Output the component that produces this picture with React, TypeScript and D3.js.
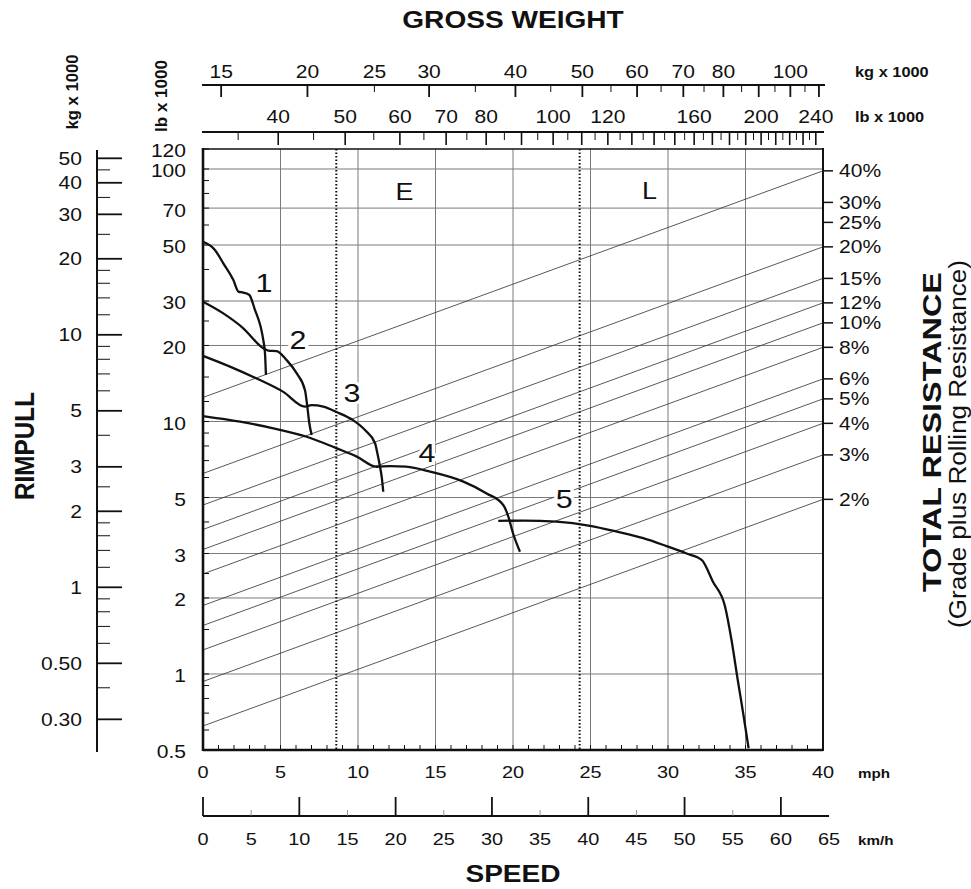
import React from 'react'
import * as d3 from 'd3'

const W = 971
const H = 889
const SX = 1.17 // the scanned chart is stretched a little horizontally
const FONT = '"Liberation Sans", Arial, Helvetica, sans-serif'
const LB_PER_KG = 2.20462
const KMH_PER_MPH = 1.609344

// speed
const mphLabels = [0, 5, 10, 15, 20, 25, 30, 35, 40]
const kmhLabels = [0, 5, 10, 15, 20, 25, 30, 35, 40, 45, 50, 55, 60, 65]
const kmhMajor = [0, 10, 20, 30, 40, 50, 60]
const kmhMinor = [5, 15, 25, 35, 45, 55]

// gross weight (x 1000)
const kgLabels = [15, 20, 25, 30, 40, 50, 60, 70, 80, 100]
const kgMajor = [15, 20, 30, 40, 50, 60, 70, 80, 90, 100, 110]
const kgMinor = [25, 35, 45, 55, 65, 75, 85, 95, 105]
const lbLabels = [40, 50, 60, 70, 80, 100, 120, 160, 200, 240]

// rimpull (x 1000)
const pullLbLabels = [120, 100, 70, 50, 30, 20, 10, 5, 3, 2, 1, 0.5]
const pullLbGrid = [100, 70, 50, 30, 20, 10, 5, 3, 2, 1]
const pullLbMinor = [0.6, 0.7, 0.8, 0.9, 1, 1.5, 2, 2.5, 3, 4, 5, 6, 7, 8, 9, 10, 12, 15, 20, 25, 30, 40, 50, 60, 70, 80, 90, 100, 120]
const pullKgLabels = [50, 40, 30, 20, 10, 5, 3, 2, 1, 0.5, 0.3]
const pullKgMinor = [45, 35, 25, 18, 16, 14, 12, 9, 8, 7, 6, 4, 2.5, 1.8, 1.6, 1.4, 1.2, 0.9, 0.8, 0.7, 0.6, 0.4]

// total resistance (%)
const resistLabels = [40, 30, 25, 20, 15, 12, 10, 8, 6, 5, 4, 3, 2]
const resistLines = [40, 20, 15, 12, 10, 8, 6, 5, 4, 3, 2]

// gear curves: [mph, rimpull lb x 1000]
const gear1 = [[0, 51.5], [0.77, 47.8], [1.31, 42.3], [1.96, 36.3], [2.28, 32.7], [2.6, 32.4], [2.99, 31.7], [3.35, 27.7], [3.72, 23.7], [3.89, 21.0], [4.0, 18.6], [4.06, 15.3]]
const gear2 = [[0, 29.8], [1.31, 26.8], [2.6, 23.4], [3.89, 19.5], [4.21, 19.1], [4.75, 19.0], [5.4, 17.5], [6.05, 15.5], [6.58, 13.3], [6.73, 11.45], [6.86, 9.84], [7.01, 8.84]]
const gear3 = [[0, 18.2], [1.74, 16.5], [3.46, 14.8], [5.18, 13.1], [6.58, 11.45], [7.01, 11.6], [7.76, 11.45], [8.62, 10.9], [9.7, 10.1], [10.45, 9.25], [11.1, 8.2], [11.25, 7.48], [11.42, 6.62], [11.53, 6.04], [11.63, 5.27]]
const gear4 = [[0, 10.5], [2.39, 9.98], [4.54, 9.4], [6.69, 8.7], [8.62, 7.83], [9.92, 7.26], [11.2, 6.62], [12.06, 6.66], [13.1, 6.62], [14.65, 6.33], [16.8, 5.78], [18.3, 5.19], [19.37, 4.67], [19.7, 4.2], [20.0, 3.61], [20.45, 3.05]]
const gear5 = [[19.05, 4.04], [20.7, 4.05], [22.8, 4.01], [24.97, 3.86], [26.7, 3.66], [28.4, 3.45], [29.9, 3.21], [31.2, 3.0], [32.17, 2.83], [32.9, 2.32], [33.68, 1.85], [34.1, 1.36], [34.5, 0.947], [34.85, 0.699], [35.2, 0.508]]
const gears = [gear1, gear2, gear3, gear4, gear5]
const gearNames = ['1', '2', '3', '4', '5']
const gearLabelAt = [[3.94, 35.4], [6.13, 21.0], [9.61, 12.97], [14.45, 7.5], [23.3, 4.93]]

// dotted range limits and their letters
const rangeLimits = [8.6, 24.3]
const rangeNames = ['E', 'L']
const rangeNameAt = [[13, 81], [28.8, 82]]

const left = 203
const right = 823
const top = 149
const bottom = 750

const x = d3.scaleLinear().domain([0, 40]).range([left, right])
const kmh = d3.scaleLinear().domain([0, 40 * KMH_PER_MPH]).range([left, right])
const y = d3.scaleLog().domain([0.5, 120]).range([bottom, top])
const weight = d3.scaleLog().domain([14.12, 111.5]).range([left, right])
const yKg = (v: number) => y(v * LB_PER_KG)

type TProps = {
  x: number
  y: number
  size: number
  anchor?: string
  bold?: boolean
  rotate?: number
  len?: number
  sx?: number
  children: React.ReactNode
}

const T = ({ x, y, size, anchor = 'middle', bold = false, rotate = 0, len, sx = SX, children }: TProps) => (
  <text
    transform={`translate(${x},${y}) scale(${sx},1)${rotate ? ` rotate(${rotate})` : ''}`}
    fontSize={size}
    textAnchor={anchor}
    fontWeight={bold ? 'bold' : 'normal'}
    dominantBaseline="central"
    textLength={len}
    lengthAdjust={len ? 'spacingAndGlyphs' : undefined}
  >
    {children}
  </text>
)

const App = () => {
  const line = d3
    .line<number[]>()
    .x((d) => x(d[0]))
    .y((d) => y(d[1]))
    .curve(d3.curveMonotoneX)

  const wMax = weight.domain()[1] * LB_PER_KG
  const wMin = weight.domain()[0] * LB_PER_KG
  const lbMajor = d3.range(40, 241, 10)
  const lbMinor = d3.range(35, 241, 5).filter((v) => v % 10 !== 0)
  const mphMinor = d3.range(1, 40)
  const kgAxisY = 85
  const lbAxisY = 132
  const outerX = 97
  const kmhAxisY = 816

  return (
    <svg
      width={W}
      height={H}
      style={{ position: 'absolute', left: 0, top: 0, background: '#fff', fontFamily: FONT }}
    >
      <rect width={W} height={H} fill="#fff" />

      {/* grid */}
      <g stroke="#7a7a7a" strokeWidth={1}>
        {pullLbGrid.map((v) => (
          <line key={'h' + v} x1={left} x2={right} y1={y(v)} y2={y(v)} />
        ))}
        {mphLabels.slice(1, -1).map((v) => (
          <line key={'v' + v} x1={x(v)} x2={x(v)} y1={top} y2={bottom} />
        ))}
      </g>

      {/* total resistance lines */}
      <g stroke="#3a3a3a" strokeWidth={0.85}>
        {resistLines.map((r) => (
          <line
            key={'r' + r}
            x1={left}
            x2={right}
            y1={y((wMin * r) / 100)}
            y2={y((wMax * r) / 100)}
          />
        ))}
      </g>

      {/* range limits */}
      <g stroke="#111" strokeWidth={2} strokeDasharray="1.5 2">
        {rangeLimits.map((v) => (
          <line key={'d' + v} x1={x(v)} x2={x(v)} y1={top} y2={bottom} />
        ))}
      </g>
      <g fill="#111">
        {rangeNames.map((n, i) => (
          <T key={n} x={x(rangeNameAt[i][0])} y={y(rangeNameAt[i][1])} size={23}>
            {n}
          </T>
        ))}
      </g>

      {/* gear curves */}
      <g fill="none" stroke="#111" strokeWidth={2.3} strokeLinejoin="round">
        {gears.map((g, i) => (
          <path key={'g' + i} d={line(g) || ''} />
        ))}
      </g>
      <g fill="#111" stroke="#fff" strokeWidth={6} paintOrder="stroke">
        {gearNames.map((n, i) => (
          <T key={'gl' + n} x={x(gearLabelAt[i][0])} y={y(gearLabelAt[i][1])} size={26}>
            {n}
          </T>
        ))}
      </g>

      {/* plot frame and inner ticks */}
      <g stroke="#111" fill="none">
        <line x1={left} x2={left} y1={top - 1} y2={bottom + 1} strokeWidth={2.6} />
        <line x1={left} x2={right} y1={bottom} y2={bottom} strokeWidth={2.6} />
        <line x1={right} x2={right} y1={top - 1} y2={bottom + 1} strokeWidth={2} />
        <line x1={left} x2={right} y1={top} y2={top} strokeWidth={1.6} />
        {pullLbMinor.map((v) => (
          <line key={'lt' + v} x1={left} x2={left + 6} y1={y(v)} y2={y(v)} strokeWidth={1} />
        ))}
        {mphMinor.map((v) => (
          <line key={'bt' + v} x1={x(v)} x2={x(v)} y1={bottom} y2={bottom - 5} strokeWidth={1} />
        ))}
      </g>

      {/* left inner axis labels (lb x 1000) */}
      <g fill="#111">
        {pullLbLabels.map((v) => (
          <T key={'ll' + v} x={186} y={y(v) + 2} size={18} anchor="end">
            {String(v)}
          </T>
        ))}
      </g>

      {/* left outer axis (kg x 1000) */}
      <g stroke="#111">
        <line x1={outerX} x2={outerX} y1={top + 1} y2={bottom + 2} strokeWidth={2} />
        {pullKgLabels.map((v) => (
          <line key={'ok' + v} x1={outerX} x2={outerX + 25} y1={yKg(v)} y2={yKg(v)} strokeWidth={1.8} />
        ))}
        {pullKgMinor.map((v) => (
          <line key={'om' + v} x1={outerX} x2={outerX + 13} y1={yKg(v)} y2={yKg(v)} strokeWidth={1} />
        ))}
      </g>
      <g fill="#111">
        {pullKgLabels.map((v) => (
          <T key={'ol' + v} x={82} y={yKg(v)} size={18} anchor="end">
            {v < 1 ? v.toFixed(2) : String(v)}
          </T>
        ))}
      </g>

      {/* right axis: total resistance */}
      <g stroke="#111" strokeWidth={1.5}>
        {resistLabels.map((r) => (
          <line key={'rt' + r} x1={right} x2={right + 10} y1={y((wMax * r) / 100)} y2={y((wMax * r) / 100)} />
        ))}
      </g>
      <g fill="#111">
        {resistLabels.map((r) => (
          <T key={'rl' + r} x={right + 16} y={y((wMax * r) / 100)} size={18} anchor="start">
            {r + '%'}
          </T>
        ))}
      </g>

      {/* gross weight axes */}
      <g stroke="#111">
        <line x1={left - 1} x2={right + 2} y1={kgAxisY} y2={kgAxisY} strokeWidth={2} />
        {kgMajor.map((v) => (
          <line key={'km' + v} x1={weight(v)} x2={weight(v)} y1={kgAxisY} y2={kgAxisY + 12} strokeWidth={1.8} />
        ))}
        {kgMinor.map((v) => (
          <line key={'kn' + v} x1={weight(v)} x2={weight(v)} y1={kgAxisY} y2={kgAxisY + 7} strokeWidth={1} />
        ))}
        <line x1={left - 1} x2={right + 1} y1={lbAxisY} y2={lbAxisY} strokeWidth={2} />
        {lbMajor.map((v) => (
          <line key={'lm' + v} x1={weight(v / LB_PER_KG)} x2={weight(v / LB_PER_KG)} y1={lbAxisY} y2={lbAxisY + 13} strokeWidth={1.6} />
        ))}
        {lbMinor.map((v) => (
          <line key={'ln' + v} x1={weight(v / LB_PER_KG)} x2={weight(v / LB_PER_KG)} y1={lbAxisY} y2={lbAxisY + 8} strokeWidth={1} />
        ))}
      </g>
      <g fill="#111">
        {kgLabels.map((v) => (
          <T key={'kl' + v} x={weight(v)} y={72} size={18}>
            {v}
          </T>
        ))}
        {lbLabels.map((v) => (
          <T key={'bl' + v} x={weight(v / LB_PER_KG)} y={117} size={18}>
            {v}
          </T>
        ))}
        <T x={855} y={72} size={14} bold anchor="start">kg x 1000</T>
        <T x={855} y={117} size={14} bold anchor="start">lb x 1000</T>
        <T x={72} y={92} size={14} bold rotate={-90} len={75}>kg x 1000</T>
        <T x={161} y={96} size={14} bold rotate={-90} len={72}>lb x 1000</T>
      </g>

      {/* speed axes */}
      <g fill="#111">
        {mphLabels.map((v) => (
          <T key={'mp' + v} x={x(v)} y={772} size={17}>
            {v}
          </T>
        ))}
        <T x={858} y={773} size={13} bold anchor="start">mph</T>
        {kmhLabels.map((v) => (
          <T key={'kh' + v} x={kmh(v)} y={839} size={17}>
            {v}
          </T>
        ))}
        <T x={858} y={840} size={13} bold anchor="start">km/h</T>
      </g>
      <g stroke="#111">
        <line x1={left} x2={kmh(65)} y1={kmhAxisY} y2={kmhAxisY} strokeWidth={2} />
        {kmhMajor.map((v) => (
          <line key={'kj' + v} x1={kmh(v)} x2={kmh(v)} y1={kmhAxisY} y2={kmhAxisY - 19} strokeWidth={1.8} />
        ))}
        {kmhMinor.map((v) => (
          <line key={'kk' + v} x1={kmh(v)} x2={kmh(v)} y1={kmhAxisY} y2={kmhAxisY - 6} strokeWidth={0.8} stroke="#777" />
        ))}
      </g>

      {/* titles */}
      <g fill="#111">
        <T x={513} y={20} size={24} bold>GROSS WEIGHT</T>
        <T x={513} y={874} size={24} bold>SPEED</T>
        <T x={24} y={446} size={24} bold rotate={-90} len={108}>RIMPULL</T>
        <T x={932} y={432} size={25} sx={1} bold rotate={-90} len={320}>TOTAL RESISTANCE</T>
        <T x={958} y={444} size={23} sx={1} rotate={-90} len={368}>(Grade plus Rolling Resistance)</T>
      </g>
    </svg>
  )
}

export default App
